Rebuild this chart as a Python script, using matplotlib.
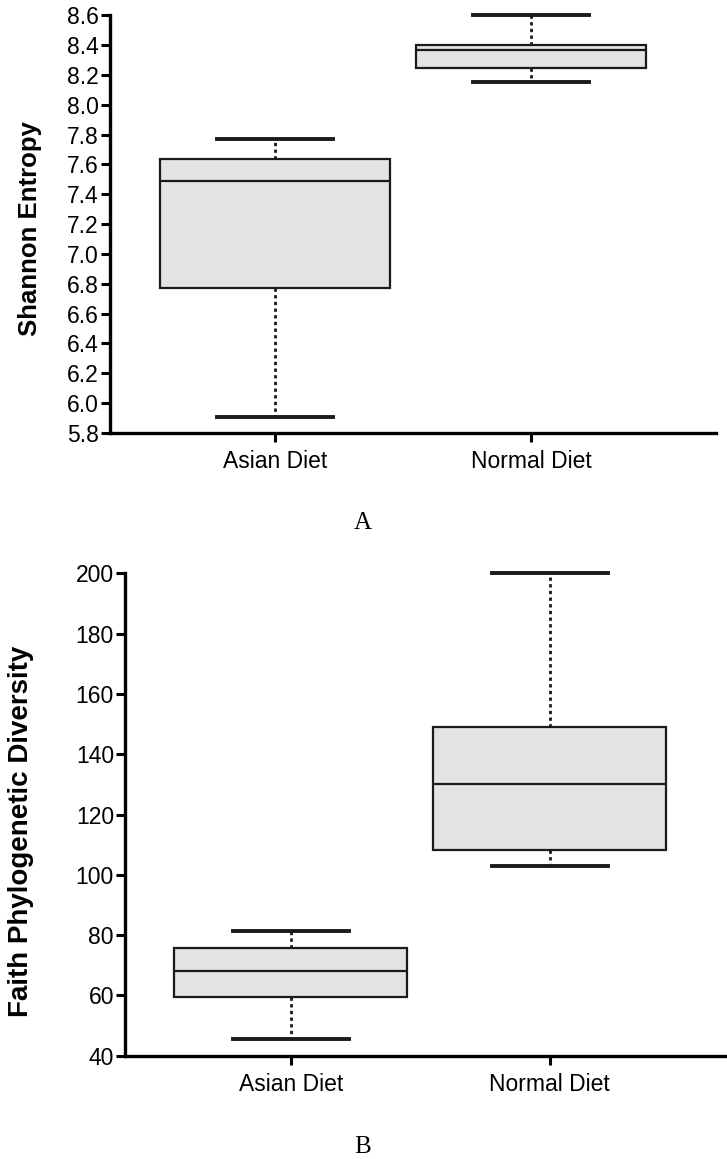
import numpy as np
import matplotlib.pyplot as plt

# Box summaries: whisker low, Q1, median, Q3, whisker high
groups = ["Asian Diet", "Normal Diet"]

shannon_low = [5.91, 8.15]
shannon_q1 = [6.77, 8.25]
shannon_med = [7.49, 8.37]
shannon_q3 = [7.64, 8.40]
shannon_high = [7.77, 8.60]

faith_low = [45.5, 103.0]
faith_q1 = [59.6, 108.2]
faith_med = [68.0, 130.0]
faith_q3 = [75.7, 148.9]
faith_high = [81.3, 200.0]

shannon_ticks = [5.8, 6.0, 6.2, 6.4, 6.6, 6.8, 7.0, 7.2, 7.4, 7.6, 7.8, 8.0, 8.2, 8.4, 8.6]
faith_ticks = [40, 60, 80, 100, 120, 140, 160, 180, 200]

plt.rcParams['font.family'] = ['Liberation Sans', 'DejaVu Sans']


def make_stats(low, q1, med, q3, high):
    return [dict(whislo=a, q1=b, med=c, q3=d, whishi=e, fliers=[])
            for a, b, c, d, e in zip(low, q1, med, q3, high)]


def draw_panel(ax, stats, ticks, fmt, ylabel, label_size):
    parts = ax.bxp(stats, positions=[1, 2], widths=0.9, capwidths=0.45,
                   patch_artist=True, showfliers=False,
                   boxprops=dict(facecolor='#e3e3e3', edgecolor='#1a1a1a', linewidth=1.6),
                   medianprops=dict(color='#1a1a1a', linewidth=1.6),
                   whiskerprops=dict(color='#1a1a1a', linewidth=2.0, linestyle=(0, (1.2, 1.2))),
                   capprops=dict(color='#1a1a1a', linewidth=2.8))
    for cap in parts['caps']:
        cap.set_clip_on(False)
    ax.set_yticks(ticks)
    ax.set_yticklabels([fmt.format(t) for t in ticks])
    ax.set_ylim(ticks[0], ticks[-1])
    ax.set_xticks([1, 2])
    ax.set_xticklabels(groups)
    ax.set_ylabel(ylabel, fontsize=label_size, fontweight='bold')
    for s in ['top', 'right']:
        ax.spines[s].set_visible(False)
    for s in ['left', 'bottom']:
        ax.spines[s].set_linewidth(2.4)
        ax.spines[s].set_color('black')
    ax.tick_params(axis='both', width=2.2, length=6.5, labelsize=16.5, color='black')
    ax.tick_params(axis='y', pad=1.5)
    ax.tick_params(axis='x', pad=6)


fig = plt.figure(figsize=(7.27, 11.59), dpi=100)

ax1 = fig.add_axes([0.1513, 0.6264, 0.985 - 0.1513, 0.9868 - 0.6264])
draw_panel(ax1, make_stats(shannon_low, shannon_q1, shannon_med, shannon_q3, shannon_high),
           shannon_ticks, "{:.1f}", "Shannon Entropy", 18.5)
ax1.set_xlim(0.355, 2.723)
ax1.yaxis.set_label_coords(-0.113, 0.49)

ax2 = fig.add_axes([0.172, 0.0891, 0.997 - 0.172, 0.5053 - 0.0891])
draw_panel(ax2, make_stats(faith_low, faith_q1, faith_med, faith_q3, faith_high),
           faith_ticks, "{:d}", "Faith Phylogenetic Diversity", 20)
ax2.set_xlim(0.359, 2.676)
ax2.yaxis.set_label_coords(-0.152, 0.466)

fig.text(0.4993, 1 - 523 / 1159, "A", ha='center', va='center', fontsize=18,
         family=['Liberation Serif', 'DejaVu Serif'])
fig.text(0.4993, 1 - 1147 / 1159, "B", ha='center', va='center', fontsize=18,
         family=['Liberation Serif', 'DejaVu Serif'])

fig.savefig("out.png", dpi=100)
